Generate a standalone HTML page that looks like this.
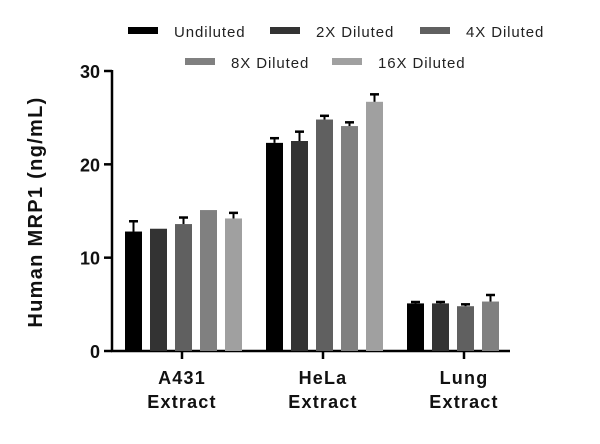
<!DOCTYPE html>
<html><head><meta charset="utf-8"><style>
body{margin:0;background:#fff;}
svg{display:block;font-family:"Liberation Sans",sans-serif;}
</style></head><body>
<svg id="chart" width="600" height="444" viewBox="0 0 600 444">
<g id="legend"></g>
<g id="axes"></g>
<g id="bars"></g>
<text transform="translate(42,212) rotate(-90)" text-anchor="middle" font-size="20" letter-spacing="1.3" font-weight="bold" fill="#111">Human MRP1 (ng/mL)</text>
</svg>
<script>
const categories = [["A431","Extract"],["HeLa","Extract"],["Lung","Extract"]];
const seriesNames = ["Undiluted","2X Diluted","4X Diluted","8X Diluted","16X Diluted"];
const values = [
  [12.8,13.1,13.6,15.1,14.2],
  [22.3,22.5,24.8,24.1,26.7],
  [5.1,5.1,4.8,5.3,null]
];
const errors = [
  [1.1,0,0.7,0,0.6],
  [0.5,1.0,0.4,0.4,0.8],
  [0.15,0.15,0.2,0.7,null]
];
const yTicks = [0,10,20,30];
const colors = ["#000","#333","#606060","#808080","#a0a0a0"];
const NS="http://www.w3.org/2000/svg";
function mk(tag,attrs,parent){const e=document.createElementNS(NS,tag);for(const k in attrs)e.setAttribute(k,attrs[k]);parent.appendChild(e);return e;}
const y0=351, pxPer=280/30;
function yS(v){return y0-v*pxPer;}
function groupCenter(i){return 182+i*141;}
function barX(i,j){return groupCenter(i)-57+j*25;}
const axes=document.getElementById('axes');
let l=mk('line',{x1:112,y1:70,x2:112,y2:352,stroke:'#000','stroke-width':2.5},axes);

l=mk('line',{x1:111,y1:351,x2:510,y2:351,stroke:'#000','stroke-width':2.5},axes);

yTicks.forEach(t=>{
  const tk=mk('line',{x1:104,x2:112,y1:yS(t),y2:yS(t),stroke:'#000','stroke-width':2.5},axes);
  
  const tx=mk('text',{x:100,y:yS(t)+7,'text-anchor':'end','font-size':18,'font-weight':'bold',fill:'#111'},axes);
  tx.textContent=t;
  
});
categories.forEach((c,i)=>{
  const cx=groupCenter(i);
  const tk=mk('line',{x1:cx,x2:cx,y1:351,y2:359,stroke:'#000','stroke-width':2.5},axes);
  
  c.forEach((s,k)=>{
    const tx=mk('text',{x:cx,y:384+k*24,'text-anchor':'middle','font-size':18,'letter-spacing':1.2,'font-weight':'bold',fill:'#111'},axes);
    tx.textContent=s;
    
  });
});
const bars=document.getElementById('bars');
values.forEach((row,i)=>row.forEach((v,j)=>{
  if(v==null)return;
  const x=barX(i,j);
  const r=mk('rect',{x:x,y:yS(v),width:17,height:y0-yS(v),fill:colors[j]},bars);
  
  
  const e=errors[i][j];
  if(e>0){
    const g=mk('g',{},bars);
    
    
    mk('line',{x1:x+8.5,x2:x+8.5,y1:yS(v),y2:yS(v+e),stroke:'#000','stroke-width':2},g);
    mk('line',{x1:x+4,x2:x+13,y1:yS(v+e),y2:yS(v+e),stroke:'#000','stroke-width':2.5},g);
  }
}));
const legend=document.getElementById('legend');
const legPos=[[128,31],[270,31],[420,31],[185,62],[332,62]];
seriesNames.forEach((n,j)=>{
  const g=mk('g',{},legend);
  
  
  const [x,y]=legPos[j];
  mk('rect',{x:x,y:y-4,width:30,height:7,fill:colors[j]},g);
  const t=mk('text',{x:x+46,y:y+6,'font-size':15,'letter-spacing':0.9,fill:'#222'},g);
  t.textContent=n;
});
</script>
</body></html>
